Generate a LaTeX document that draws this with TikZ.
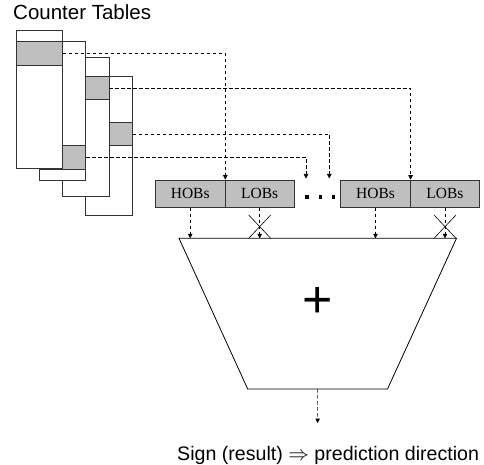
\documentclass[tikz,border=0pt]{standalone}
\usepackage{fontspec}
\setmainfont{Liberation Serif}
\newfontfamily\arialf{Liberation Sans}
\usetikzlibrary{arrows.meta,calc}
\begin{document}
\begin{tikzpicture}[x=1pt,y=-1pt,
  tbl/.style={draw=black!80,fill=white,line width=0.7pt,minimum width=46.5pt,minimum height=138.8pt,inner sep=0pt,anchor=north west},
  cell/.style={draw=black!80,fill=gray!50,line width=0.7pt,minimum width=46.5pt,minimum height=23.3pt,inner sep=0pt,anchor=north west},
  bits/.style={draw=black!80,fill=gray!50,line width=0.7pt,minimum width=69.5pt,minimum height=27.3pt,inner sep=0pt,font=\fontsize{15.5}{16}\selectfont},
  dasharrow/.style={line width=0.6pt,dash pattern=on 3.5pt off 2.5pt,-{Triangle[length=4.5pt,width=4.5pt]}},
  cross/.style={line width=0.6pt},
  sanslabel/.style={font=\arialf\fontsize{20.5}{24}\selectfont,inner sep=0pt,anchor=base west},
  dot/.style={fill=black},
]
\useasboundingbox (0,0) rectangle (484,465);
% counter tables, back to front
\node[tbl] (t4) at (85.4,75.7) {};
\node[cell] (g4) at (85.4,122) {};
\node[tbl] (t3) at (62.1,56.7) {};
\node[cell] (g3) at (62.1,76) {};
\node[tbl] (t2) at (38.8,41.3) {};
\node[cell] (g2) at (38.8,145.3) {};
\node[tbl] (t1) at (15.5,29.7) {};
\node[cell] (g1) at (15.5,41.3) {};
\node[sanslabel] (title) at (13,20) {Counter Tables};
% bit boxes
\node[bits] (h1) at (190.2,193.7) {HOBs};
\node[bits] (l1) at (259.7,193.7) {LOBs};
\node[bits] (h2) at (375.5,193.7) {HOBs};
\node[bits] (l2) at (445,193.7) {LOBs};
\coordinate (e1) at (306,178.5);
\coordinate (e2) at (329.3,178.5);
\draw[dasharrow] (g1.east) -| (h1.north east);
\draw[dasharrow] (g3.east) -| (h2.north east);
\draw[dasharrow] (g4.east) -| (e2);
\draw[dasharrow] (g2.east) -| (e1);
\foreach \x in {307,320.2,333.3} \fill[dot] (\x-1.7,195.2) rectangle (\x+1.7,198.6);
% adder
\coordinate (tl) at (179,238.3);
\coordinate (tr) at (456.5,238.3);
\coordinate (br) at (387.5,389);
\coordinate (bl) at (247.7,389);
\draw[line width=0.8pt] (tl) -- (tr) -- (br) -- (bl) -- cycle;
\node[font=\arialf\fontsize{52}{52}\selectfont,inner sep=0pt] (plus) at (317.3,302.3) {+};
\draw[dasharrow] (h1.south) -- (h1.south |- tl);
\draw[dasharrow] (l1.south) -- (l1.south |- tl);
\draw[dasharrow] (h2.south) -- (h2.south |- tl);
\draw[dasharrow] (l2.south) -- (l2.south |- tl);
\coordinate (x1) at (l1.south |- tl);
\coordinate (x2) at (l2.south |- tl);
\foreach \c in {x1,x2} {
  \draw[cross] ($(\c)+(-11,0)$) -- ($(\c)+(11,-23.3)$);
  \draw[cross] ($(\c)+(11,0)$) -- ($(\c)+(-11,-23.3)$);
}
% result
\coordinate (bm) at ($(bl)!0.5!(br)$);
\coordinate (out) at (317.6,423);
\draw[dasharrow] (bm) -- (out);
\node[sanslabel,font=\arialf\fontsize{19.6}{24}\selectfont] (res) at (177,460) {Sign (result) $\Rightarrow$ prediction direction};
\end{tikzpicture}
\end{document}
